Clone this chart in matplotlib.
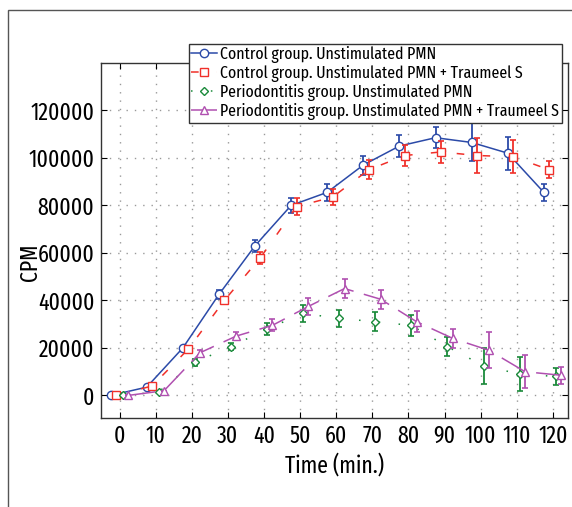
import numpy as np
import matplotlib
matplotlib.use("Agg")
from matplotlib import pyplot as plt
from matplotlib.patches import Rectangle

plt.rcParams['font.family'] = ['Fira Sans Extra Condensed', 'PT Sans Narrow', 'DejaVu Sans']

time = [0, 10, 20, 30, 40, 50, 60, 70, 80, 90, 100, 110, 120]

ctrl = [0, 3500, 20000, 42500, 63000, 80000, 85500, 97000, 105000, 108500, 106500, 102000, 85500]
ctrl_err = [0, 0, 1000, 2000, 2500, 3000, 3500, 4000, 4500, 4500, 8000, 7000, 3500]

ctrl_t = [0, 4000, 19500, 40000, 58000, 79500, 83500, 95000, 101000, 102500, 101000, 100500, 95000]
ctrl_t_err = [0, 0, 1000, 1500, 2500, 3500, 3500, 4000, 4500, 4500, 7500, 7000, 3500]

perio = [0, 1500, 14000, 20500, 28000, 34500, 32500, 31000, 29500, 20500, 12500, 9000, 8000]
perio_err = [0, 0, 1500, 1500, 2500, 3500, 3500, 4000, 4500, 4000, 7500, 7000, 3500]

perio_t = [0, 2000, 18000, 25000, 29500, 37500, 45000, 40500, 31000, 24000, 19000, 10000, 8500]
perio_t_err = [0, 0, 1000, 1500, 2500, 3500, 4000, 4000, 4500, 4000, 7500, 7000, 3500]

labels = ["Control group. Unstimulated PMN",
          "Control group. Unstimulated PMN + Traumeel S",
          "Periodontitis group. Unstimulated PMN",
          "Periodontitis group. Unstimulated PMN + Traumeel S"]

fig = plt.figure(figsize=(5.72, 5.07), dpi=100)
ax = fig.add_axes([0.177, 0.1755, 0.816, 0.7005])

# outer frame
fig.patches.append(Rectangle((8 / 572, -0.1), 1.2, 1 - 10 / 507 + 0.1,
                             transform=fig.transFigure, fill=False,
                             edgecolor='#555555', lw=1.0))

series = [
    (ctrl, ctrl_err, -2.5, '#2b4aa8', 'o', '-'),
    (ctrl_t, ctrl_t_err, -1.0, '#f0302a', 's', (0, (5, 12))),
    (perio, perio_err, 0.8, '#1a8a3a', 'D', (0, (1, 12))),
    (perio_t, perio_t_err, 2.3, '#b050b0', '^', (0, (18, 7))),
]

t = np.array(time)
handles = []
for (vals, err, off, col, mk, ls), lab in zip(series, labels):
    ms = 4.5 if mk == 'D' else 6
    ax.errorbar(t + off, vals, yerr=err, fmt='none', ecolor=col, elinewidth=1.3,
                capsize=2.5, capthick=1.2)
    h, = ax.plot(t + off, vals, color=col, marker=mk, ms=ms, mfc='white',
                 mec=col, mew=1.0, ls=ls, lw=1.1, label=lab)
    handles.append(h)

ax.set_xlim(-5.1, 124.2)
ax.set_ylim(-9500, 140000)
ax.set_xticks(time)
ax.set_yticks([0, 20000, 40000, 60000, 80000, 100000, 120000])
ax.grid(True, ls=(0, (1, 5)), color='#999999', lw=1.0)
ax.tick_params(direction='in', top=True, right=True, length=4, labelsize=17, pad=5)
for sp in ax.spines.values():
    sp.set_color('#333333')
    sp.set_linewidth(1.0)

ax.set_xlabel("Time (min.)", fontsize=17, labelpad=4)
ax.set_ylabel("CPM", fontsize=17)
ax.yaxis.set_label_coords(-0.128, 0.44)

leg = ax.legend(handles=handles, loc='upper right', bbox_to_anchor=(0.987, 1.054),
                fontsize=12.4, frameon=True, fancybox=False, edgecolor='#333333',
                framealpha=1, handlelength=1.5, handletextpad=0.2, borderpad=0.15,
                labelspacing=0.12, borderaxespad=0)
leg.get_frame().set_linewidth(1.0)
leg.set_zorder(5)

fig.savefig("out.png", dpi=100)
